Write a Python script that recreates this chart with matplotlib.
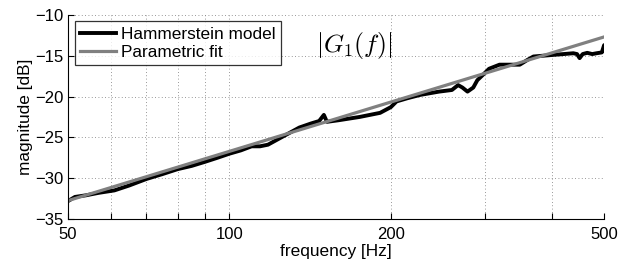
import numpy as np
import matplotlib
matplotlib.use('Agg')
import matplotlib.pyplot as plt
from matplotlib.ticker import FixedLocator, NullFormatter, FixedFormatter

# Hammerstein model |G1(f)|
f_model = [50, 51.5, 54, 57, 61, 65, 70, 75, 80, 85, 90, 95, 100, 105, 110, 114,
           118, 125, 135, 142, 147, 150, 152, 160, 175, 191, 200, 205, 215, 227,
           246, 260, 267, 272, 278, 285, 290, 297, 305, 319, 335, 348, 360, 369,
           385, 402, 420, 438, 445, 450, 456, 465, 475, 484, 495, 500, 502, 504]
g_model = [-32.8, -32.3, -32.1, -31.8, -31.5, -30.9, -30.1, -29.5, -28.9, -28.5,
           -28.0, -27.5, -27.0, -26.6, -26.1, -26.1, -25.9, -25.0, -23.8, -23.3,
           -23.0, -22.25, -23.1, -22.9, -22.5, -22.0, -21.3, -20.6, -20.2, -19.8,
           -19.4, -19.2, -18.6, -18.9, -19.4, -18.9, -18.0, -17.35, -16.6, -16.1,
           -16.1, -16.1, -15.5, -15.1, -15.0, -14.9, -14.8, -14.7, -14.8, -15.3,
           -14.8, -14.65, -14.8, -14.7, -14.6, -13.7, -14.5, -13.8]

# parametric fit
f_fit = [50, 500]
g_fit = [-32.75, -12.7]

x_ticks = [50, 60, 70, 80, 90, 100, 200, 300, 400, 500]
x_labels = ['50', '', '', '', '', '100', '200', '', '', '500']
y_ticks = [-35, -30, -25, -20, -15, -10]

plt.rcParams['font.family'] = ['Liberation Sans', 'DejaVu Sans']
plt.rcParams['mathtext.fontset'] = 'cm'

fig = plt.figure(figsize=(6.19, 2.61), dpi=100)
ax = fig.add_axes([0.110, 0.161, 0.866, 0.782])

ax.semilogx(f_model, g_model, color='black', lw=2.8, label='Hammerstein model',
            solid_joinstyle='round')
ax.semilogx(f_fit, g_fit, color='#808080', lw=2.3, label='Parametric fit')

ax.set_xlim(50, 500)
ax.set_ylim(-35, -10)
ax.xaxis.set_major_locator(FixedLocator(x_ticks))
ax.xaxis.set_major_formatter(FixedFormatter(x_labels))
ax.xaxis.set_minor_locator(FixedLocator([]))
ax.xaxis.set_minor_formatter(NullFormatter())
ax.set_yticks(y_ticks)
ax.set_yticklabels(['\u2212%d' % -v for v in y_ticks])

ax.tick_params(direction='in', length=4, width=0.8, labelsize=12)
ax.tick_params(axis='x', pad=6)
ax.tick_params(axis='y', pad=3)
ax.grid(True, which='major', linestyle=(0, (1, 3)), color='#777777', lw=0.6)
ax.spines['top'].set_visible(False)
ax.spines['right'].set_visible(False)

ax.set_xlabel('frequency [Hz]', fontsize=12.4, labelpad=1)
ax.set_ylabel('magnitude [dB]', fontsize=12.4, labelpad=2)

ax.text(0.463, 0.848, r'$|G_1(f)|$', transform=ax.transAxes, fontsize=18.5,
        ha='left', va='center')

leg = ax.legend(loc='upper left', fontsize=12.4, frameon=True, fancybox=False,
                edgecolor='black', handlelength=2.1, borderpad=0.3,
                labelspacing=0.2, handletextpad=0.3, borderaxespad=0.38)
leg.get_frame().set_linewidth(0.9)

fig.savefig('out.png', dpi=100)
